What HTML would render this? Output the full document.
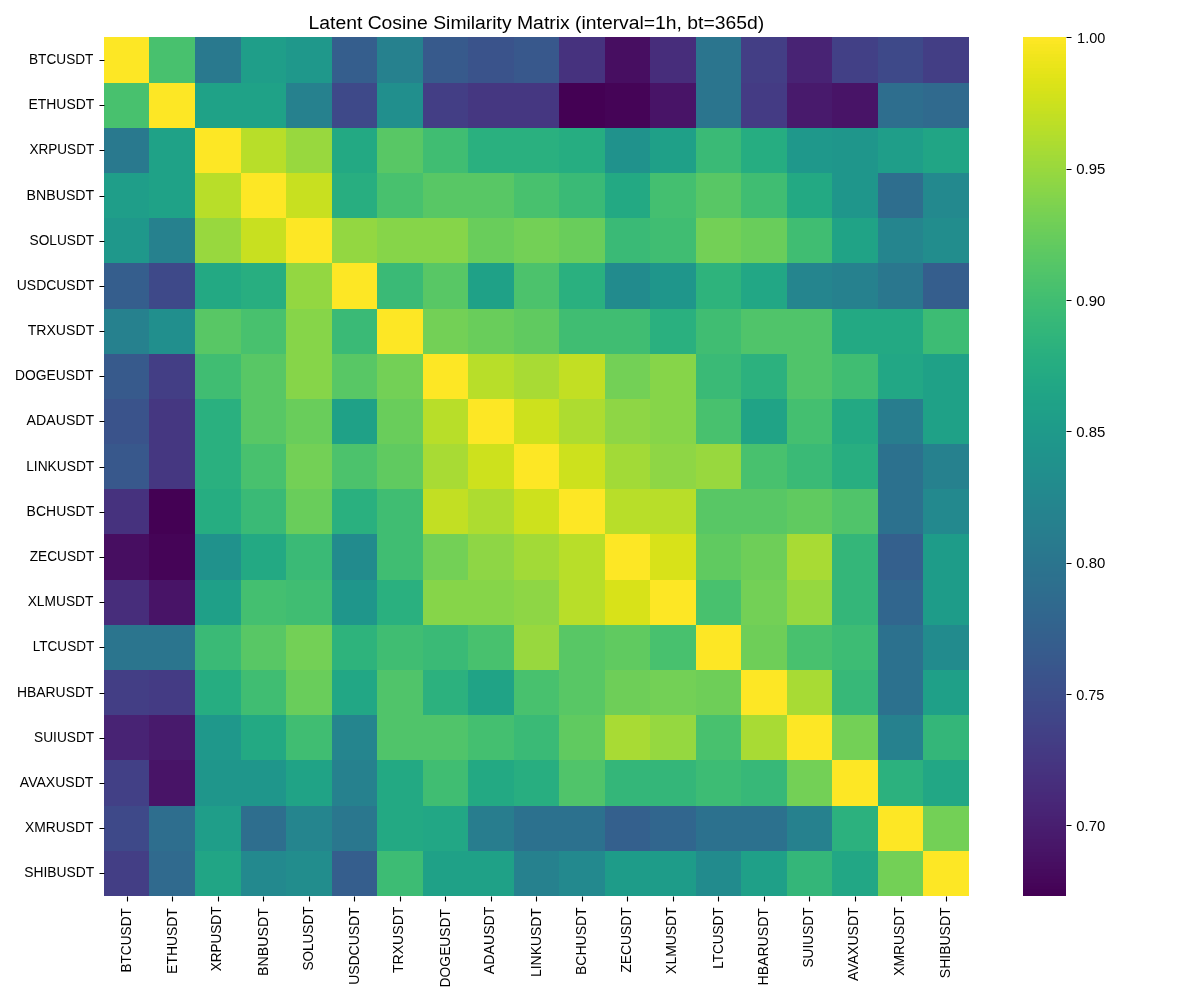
<!DOCTYPE html><html><head><meta charset="utf-8"><title>Latent Cosine Similarity Matrix</title><style>html,body{margin:0;padding:0;background:#fff;width:1200px;height:1000px;overflow:hidden}svg{display:block;will-change:transform}text{font-family:"Liberation Sans",sans-serif;fill:#000}</style></head><body>
<svg width="1200" height="1000" viewBox="0 0 1200 1000">
<rect x="0" y="0" width="1200" height="1000" fill="#fff"/>
<g shape-rendering="crispEdges">
<rect x="104" y="37" width="45" height="46" fill="#fde725"/>
<rect x="149" y="37" width="46" height="46" fill="#48c16e"/>
<rect x="195" y="37" width="46" height="46" fill="#29798e"/>
<rect x="241" y="37" width="45" height="46" fill="#1f9e89"/>
<rect x="286" y="37" width="46" height="46" fill="#1f988b"/>
<rect x="332" y="37" width="45" height="46" fill="#355e8d"/>
<rect x="377" y="37" width="46" height="46" fill="#26818e"/>
<rect x="423" y="37" width="45" height="46" fill="#375a8c"/>
<rect x="468" y="37" width="46" height="46" fill="#3a538b"/>
<rect x="514" y="37" width="45" height="46" fill="#38588c"/>
<rect x="559" y="37" width="46" height="46" fill="#46327e"/>
<rect x="605" y="37" width="45" height="46" fill="#470e61"/>
<rect x="650" y="37" width="46" height="46" fill="#472d7b"/>
<rect x="696" y="37" width="45" height="46" fill="#2b758e"/>
<rect x="741" y="37" width="46" height="46" fill="#433e85"/>
<rect x="787" y="37" width="45" height="46" fill="#482374"/>
<rect x="832" y="37" width="46" height="46" fill="#424086"/>
<rect x="878" y="37" width="45" height="46" fill="#3e4989"/>
<rect x="923" y="37" width="46" height="46" fill="#433e85"/>
<rect x="104" y="83" width="45" height="45" fill="#48c16e"/>
<rect x="149" y="83" width="46" height="45" fill="#fde725"/>
<rect x="195" y="83" width="46" height="45" fill="#1fa287"/>
<rect x="241" y="83" width="45" height="45" fill="#1fa287"/>
<rect x="286" y="83" width="46" height="45" fill="#26818e"/>
<rect x="332" y="83" width="45" height="45" fill="#3e4989"/>
<rect x="377" y="83" width="46" height="45" fill="#218f8d"/>
<rect x="423" y="83" width="45" height="45" fill="#433e85"/>
<rect x="468" y="83" width="46" height="45" fill="#453781"/>
<rect x="514" y="83" width="45" height="45" fill="#453781"/>
<rect x="559" y="83" width="46" height="45" fill="#440154"/>
<rect x="605" y="83" width="45" height="45" fill="#450457"/>
<rect x="650" y="83" width="46" height="45" fill="#481467"/>
<rect x="696" y="83" width="45" height="45" fill="#2b758e"/>
<rect x="741" y="83" width="46" height="45" fill="#443b84"/>
<rect x="787" y="83" width="45" height="45" fill="#481a6c"/>
<rect x="832" y="83" width="46" height="45" fill="#481467"/>
<rect x="878" y="83" width="45" height="45" fill="#2e6e8e"/>
<rect x="923" y="83" width="46" height="45" fill="#306a8e"/>
<rect x="104" y="128" width="45" height="45" fill="#29798e"/>
<rect x="149" y="128" width="46" height="45" fill="#1fa287"/>
<rect x="195" y="128" width="46" height="45" fill="#fde725"/>
<rect x="241" y="128" width="45" height="45" fill="#b8de29"/>
<rect x="286" y="128" width="46" height="45" fill="#98d83e"/>
<rect x="332" y="128" width="45" height="45" fill="#23a983"/>
<rect x="377" y="128" width="46" height="45" fill="#58c765"/>
<rect x="423" y="128" width="45" height="45" fill="#40bd72"/>
<rect x="468" y="128" width="46" height="45" fill="#2ab07f"/>
<rect x="514" y="128" width="45" height="45" fill="#2ab07f"/>
<rect x="559" y="128" width="46" height="45" fill="#26ad81"/>
<rect x="605" y="128" width="45" height="45" fill="#20928c"/>
<rect x="650" y="128" width="46" height="45" fill="#1fa088"/>
<rect x="696" y="128" width="45" height="45" fill="#3aba76"/>
<rect x="741" y="128" width="46" height="45" fill="#26ad81"/>
<rect x="787" y="128" width="45" height="45" fill="#1f988b"/>
<rect x="832" y="128" width="46" height="45" fill="#1f968b"/>
<rect x="878" y="128" width="45" height="45" fill="#1f9e89"/>
<rect x="923" y="128" width="46" height="45" fill="#21a585"/>
<rect x="104" y="173" width="45" height="45" fill="#1f9e89"/>
<rect x="149" y="173" width="46" height="45" fill="#1fa287"/>
<rect x="195" y="173" width="46" height="45" fill="#b8de29"/>
<rect x="241" y="173" width="45" height="45" fill="#fde725"/>
<rect x="286" y="173" width="46" height="45" fill="#c8e020"/>
<rect x="332" y="173" width="45" height="45" fill="#28ae80"/>
<rect x="377" y="173" width="46" height="45" fill="#48c16e"/>
<rect x="423" y="173" width="45" height="45" fill="#58c765"/>
<rect x="468" y="173" width="46" height="45" fill="#58c765"/>
<rect x="514" y="173" width="45" height="45" fill="#48c16e"/>
<rect x="559" y="173" width="46" height="45" fill="#3aba76"/>
<rect x="605" y="173" width="45" height="45" fill="#23a983"/>
<rect x="650" y="173" width="46" height="45" fill="#44bf70"/>
<rect x="696" y="173" width="45" height="45" fill="#58c765"/>
<rect x="741" y="173" width="46" height="45" fill="#40bd72"/>
<rect x="787" y="173" width="45" height="45" fill="#23a983"/>
<rect x="832" y="173" width="46" height="45" fill="#1f968b"/>
<rect x="878" y="173" width="45" height="45" fill="#2e6e8e"/>
<rect x="923" y="173" width="46" height="45" fill="#23898e"/>
<rect x="104" y="218" width="45" height="45" fill="#1f988b"/>
<rect x="149" y="218" width="46" height="45" fill="#26818e"/>
<rect x="195" y="218" width="46" height="45" fill="#98d83e"/>
<rect x="241" y="218" width="45" height="45" fill="#c8e020"/>
<rect x="286" y="218" width="46" height="45" fill="#fde725"/>
<rect x="332" y="218" width="45" height="45" fill="#93d741"/>
<rect x="377" y="218" width="46" height="45" fill="#86d549"/>
<rect x="423" y="218" width="45" height="45" fill="#86d549"/>
<rect x="468" y="218" width="46" height="45" fill="#69cd5b"/>
<rect x="514" y="218" width="45" height="45" fill="#73d056"/>
<rect x="559" y="218" width="46" height="45" fill="#69cd5b"/>
<rect x="605" y="218" width="45" height="45" fill="#3aba76"/>
<rect x="650" y="218" width="46" height="45" fill="#40bd72"/>
<rect x="696" y="218" width="45" height="45" fill="#73d056"/>
<rect x="741" y="218" width="46" height="45" fill="#69cd5b"/>
<rect x="787" y="218" width="45" height="45" fill="#40bd72"/>
<rect x="832" y="218" width="46" height="45" fill="#20a386"/>
<rect x="878" y="218" width="45" height="45" fill="#25858e"/>
<rect x="923" y="218" width="46" height="45" fill="#228d8d"/>
<rect x="104" y="263" width="45" height="46" fill="#355e8d"/>
<rect x="149" y="263" width="46" height="46" fill="#3e4989"/>
<rect x="195" y="263" width="46" height="46" fill="#23a983"/>
<rect x="241" y="263" width="45" height="46" fill="#28ae80"/>
<rect x="286" y="263" width="46" height="46" fill="#93d741"/>
<rect x="332" y="263" width="45" height="46" fill="#fde725"/>
<rect x="377" y="263" width="46" height="46" fill="#3aba76"/>
<rect x="423" y="263" width="45" height="46" fill="#58c765"/>
<rect x="468" y="263" width="46" height="46" fill="#1fa187"/>
<rect x="514" y="263" width="45" height="46" fill="#4cc26c"/>
<rect x="559" y="263" width="46" height="46" fill="#2ab07f"/>
<rect x="605" y="263" width="45" height="46" fill="#228b8d"/>
<rect x="650" y="263" width="46" height="46" fill="#1f968b"/>
<rect x="696" y="263" width="45" height="46" fill="#2eb37c"/>
<rect x="741" y="263" width="46" height="46" fill="#22a785"/>
<rect x="787" y="263" width="45" height="46" fill="#25858e"/>
<rect x="832" y="263" width="46" height="46" fill="#26818e"/>
<rect x="878" y="263" width="45" height="46" fill="#2a778e"/>
<rect x="923" y="263" width="46" height="46" fill="#355e8d"/>
<rect x="104" y="309" width="45" height="45" fill="#26818e"/>
<rect x="149" y="309" width="46" height="45" fill="#218f8d"/>
<rect x="195" y="309" width="46" height="45" fill="#58c765"/>
<rect x="241" y="309" width="45" height="45" fill="#48c16e"/>
<rect x="286" y="309" width="46" height="45" fill="#86d549"/>
<rect x="332" y="309" width="45" height="45" fill="#3aba76"/>
<rect x="377" y="309" width="46" height="45" fill="#fde725"/>
<rect x="423" y="309" width="45" height="45" fill="#73d056"/>
<rect x="468" y="309" width="46" height="45" fill="#69cd5b"/>
<rect x="514" y="309" width="45" height="45" fill="#60ca60"/>
<rect x="559" y="309" width="46" height="45" fill="#40bd72"/>
<rect x="605" y="309" width="45" height="45" fill="#40bd72"/>
<rect x="650" y="309" width="46" height="45" fill="#2ab07f"/>
<rect x="696" y="309" width="45" height="45" fill="#40bd72"/>
<rect x="741" y="309" width="46" height="45" fill="#50c46a"/>
<rect x="787" y="309" width="45" height="45" fill="#50c46a"/>
<rect x="832" y="309" width="46" height="45" fill="#23a983"/>
<rect x="878" y="309" width="45" height="45" fill="#23a983"/>
<rect x="923" y="309" width="46" height="45" fill="#3dbc74"/>
<rect x="104" y="354" width="45" height="45" fill="#375a8c"/>
<rect x="149" y="354" width="46" height="45" fill="#433e85"/>
<rect x="195" y="354" width="46" height="45" fill="#40bd72"/>
<rect x="241" y="354" width="45" height="45" fill="#58c765"/>
<rect x="286" y="354" width="46" height="45" fill="#86d549"/>
<rect x="332" y="354" width="45" height="45" fill="#58c765"/>
<rect x="377" y="354" width="46" height="45" fill="#73d056"/>
<rect x="423" y="354" width="45" height="45" fill="#fde725"/>
<rect x="468" y="354" width="46" height="45" fill="#b8de29"/>
<rect x="514" y="354" width="45" height="45" fill="#a8db34"/>
<rect x="559" y="354" width="46" height="45" fill="#c2df23"/>
<rect x="605" y="354" width="45" height="45" fill="#73d056"/>
<rect x="650" y="354" width="46" height="45" fill="#86d549"/>
<rect x="696" y="354" width="45" height="45" fill="#3aba76"/>
<rect x="741" y="354" width="46" height="45" fill="#2cb17e"/>
<rect x="787" y="354" width="45" height="45" fill="#50c46a"/>
<rect x="832" y="354" width="46" height="45" fill="#40bd72"/>
<rect x="878" y="354" width="45" height="45" fill="#22a785"/>
<rect x="923" y="354" width="46" height="45" fill="#1fa187"/>
<rect x="104" y="399" width="45" height="45" fill="#3a538b"/>
<rect x="149" y="399" width="46" height="45" fill="#453781"/>
<rect x="195" y="399" width="46" height="45" fill="#2ab07f"/>
<rect x="241" y="399" width="45" height="45" fill="#58c765"/>
<rect x="286" y="399" width="46" height="45" fill="#69cd5b"/>
<rect x="332" y="399" width="45" height="45" fill="#1fa187"/>
<rect x="377" y="399" width="46" height="45" fill="#69cd5b"/>
<rect x="423" y="399" width="45" height="45" fill="#b8de29"/>
<rect x="468" y="399" width="46" height="45" fill="#fde725"/>
<rect x="514" y="399" width="45" height="45" fill="#cde11d"/>
<rect x="559" y="399" width="46" height="45" fill="#addc30"/>
<rect x="605" y="399" width="45" height="45" fill="#8ed645"/>
<rect x="650" y="399" width="46" height="45" fill="#86d549"/>
<rect x="696" y="399" width="45" height="45" fill="#48c16e"/>
<rect x="741" y="399" width="46" height="45" fill="#20a386"/>
<rect x="787" y="399" width="45" height="45" fill="#44bf70"/>
<rect x="832" y="399" width="46" height="45" fill="#23a983"/>
<rect x="878" y="399" width="45" height="45" fill="#287d8e"/>
<rect x="923" y="399" width="46" height="45" fill="#1fa187"/>
<rect x="104" y="444" width="45" height="45" fill="#38588c"/>
<rect x="149" y="444" width="46" height="45" fill="#453781"/>
<rect x="195" y="444" width="46" height="45" fill="#2ab07f"/>
<rect x="241" y="444" width="45" height="45" fill="#48c16e"/>
<rect x="286" y="444" width="46" height="45" fill="#73d056"/>
<rect x="332" y="444" width="45" height="45" fill="#4cc26c"/>
<rect x="377" y="444" width="46" height="45" fill="#60ca60"/>
<rect x="423" y="444" width="45" height="45" fill="#a8db34"/>
<rect x="468" y="444" width="46" height="45" fill="#cde11d"/>
<rect x="514" y="444" width="45" height="45" fill="#fde725"/>
<rect x="559" y="444" width="46" height="45" fill="#cde11d"/>
<rect x="605" y="444" width="45" height="45" fill="#a2da37"/>
<rect x="650" y="444" width="46" height="45" fill="#8ed645"/>
<rect x="696" y="444" width="45" height="45" fill="#98d83e"/>
<rect x="741" y="444" width="46" height="45" fill="#48c16e"/>
<rect x="787" y="444" width="45" height="45" fill="#3aba76"/>
<rect x="832" y="444" width="46" height="45" fill="#28ae80"/>
<rect x="878" y="444" width="45" height="45" fill="#2c718e"/>
<rect x="923" y="444" width="46" height="45" fill="#26818e"/>
<rect x="104" y="489" width="45" height="45" fill="#46327e"/>
<rect x="149" y="489" width="46" height="45" fill="#440154"/>
<rect x="195" y="489" width="46" height="45" fill="#26ad81"/>
<rect x="241" y="489" width="45" height="45" fill="#3aba76"/>
<rect x="286" y="489" width="46" height="45" fill="#69cd5b"/>
<rect x="332" y="489" width="45" height="45" fill="#2ab07f"/>
<rect x="377" y="489" width="46" height="45" fill="#40bd72"/>
<rect x="423" y="489" width="45" height="45" fill="#c2df23"/>
<rect x="468" y="489" width="46" height="45" fill="#addc30"/>
<rect x="514" y="489" width="45" height="45" fill="#cde11d"/>
<rect x="559" y="489" width="46" height="45" fill="#fde725"/>
<rect x="605" y="489" width="45" height="45" fill="#b8de29"/>
<rect x="650" y="489" width="46" height="45" fill="#b8de29"/>
<rect x="696" y="489" width="45" height="45" fill="#58c765"/>
<rect x="741" y="489" width="46" height="45" fill="#58c765"/>
<rect x="787" y="489" width="45" height="45" fill="#60ca60"/>
<rect x="832" y="489" width="46" height="45" fill="#50c46a"/>
<rect x="878" y="489" width="45" height="45" fill="#2c718e"/>
<rect x="923" y="489" width="46" height="45" fill="#23898e"/>
<rect x="104" y="534" width="45" height="46" fill="#470e61"/>
<rect x="149" y="534" width="46" height="46" fill="#450457"/>
<rect x="195" y="534" width="46" height="46" fill="#20928c"/>
<rect x="241" y="534" width="45" height="46" fill="#23a983"/>
<rect x="286" y="534" width="46" height="46" fill="#3aba76"/>
<rect x="332" y="534" width="45" height="46" fill="#228b8d"/>
<rect x="377" y="534" width="46" height="46" fill="#40bd72"/>
<rect x="423" y="534" width="45" height="46" fill="#73d056"/>
<rect x="468" y="534" width="46" height="46" fill="#8ed645"/>
<rect x="514" y="534" width="45" height="46" fill="#a2da37"/>
<rect x="559" y="534" width="46" height="46" fill="#b8de29"/>
<rect x="605" y="534" width="45" height="46" fill="#fde725"/>
<rect x="650" y="534" width="46" height="46" fill="#d8e219"/>
<rect x="696" y="534" width="45" height="46" fill="#60ca60"/>
<rect x="741" y="534" width="46" height="46" fill="#6ece58"/>
<rect x="787" y="534" width="45" height="46" fill="#a8db34"/>
<rect x="832" y="534" width="46" height="46" fill="#34b679"/>
<rect x="878" y="534" width="45" height="46" fill="#34608d"/>
<rect x="923" y="534" width="46" height="46" fill="#1e9c89"/>
<rect x="104" y="580" width="45" height="45" fill="#472d7b"/>
<rect x="149" y="580" width="46" height="45" fill="#481467"/>
<rect x="195" y="580" width="46" height="45" fill="#1fa088"/>
<rect x="241" y="580" width="45" height="45" fill="#44bf70"/>
<rect x="286" y="580" width="46" height="45" fill="#40bd72"/>
<rect x="332" y="580" width="45" height="45" fill="#1f968b"/>
<rect x="377" y="580" width="46" height="45" fill="#2ab07f"/>
<rect x="423" y="580" width="45" height="45" fill="#86d549"/>
<rect x="468" y="580" width="46" height="45" fill="#86d549"/>
<rect x="514" y="580" width="45" height="45" fill="#8ed645"/>
<rect x="559" y="580" width="46" height="45" fill="#b8de29"/>
<rect x="605" y="580" width="45" height="45" fill="#d8e219"/>
<rect x="650" y="580" width="46" height="45" fill="#fde725"/>
<rect x="696" y="580" width="45" height="45" fill="#48c16e"/>
<rect x="741" y="580" width="46" height="45" fill="#73d056"/>
<rect x="787" y="580" width="45" height="45" fill="#95d840"/>
<rect x="832" y="580" width="46" height="45" fill="#34b679"/>
<rect x="878" y="580" width="45" height="45" fill="#31668e"/>
<rect x="923" y="580" width="46" height="45" fill="#1e9c89"/>
<rect x="104" y="625" width="45" height="45" fill="#2b758e"/>
<rect x="149" y="625" width="46" height="45" fill="#2b758e"/>
<rect x="195" y="625" width="46" height="45" fill="#3aba76"/>
<rect x="241" y="625" width="45" height="45" fill="#58c765"/>
<rect x="286" y="625" width="46" height="45" fill="#73d056"/>
<rect x="332" y="625" width="45" height="45" fill="#2eb37c"/>
<rect x="377" y="625" width="46" height="45" fill="#40bd72"/>
<rect x="423" y="625" width="45" height="45" fill="#3aba76"/>
<rect x="468" y="625" width="46" height="45" fill="#48c16e"/>
<rect x="514" y="625" width="45" height="45" fill="#98d83e"/>
<rect x="559" y="625" width="46" height="45" fill="#58c765"/>
<rect x="605" y="625" width="45" height="45" fill="#60ca60"/>
<rect x="650" y="625" width="46" height="45" fill="#48c16e"/>
<rect x="696" y="625" width="45" height="45" fill="#fde725"/>
<rect x="741" y="625" width="46" height="45" fill="#6ece58"/>
<rect x="787" y="625" width="45" height="45" fill="#48c16e"/>
<rect x="832" y="625" width="46" height="45" fill="#3dbc74"/>
<rect x="878" y="625" width="45" height="45" fill="#2c718e"/>
<rect x="923" y="625" width="46" height="45" fill="#228b8d"/>
<rect x="104" y="670" width="45" height="45" fill="#433e85"/>
<rect x="149" y="670" width="46" height="45" fill="#443b84"/>
<rect x="195" y="670" width="46" height="45" fill="#26ad81"/>
<rect x="241" y="670" width="45" height="45" fill="#40bd72"/>
<rect x="286" y="670" width="46" height="45" fill="#69cd5b"/>
<rect x="332" y="670" width="45" height="45" fill="#22a785"/>
<rect x="377" y="670" width="46" height="45" fill="#50c46a"/>
<rect x="423" y="670" width="45" height="45" fill="#2cb17e"/>
<rect x="468" y="670" width="46" height="45" fill="#20a386"/>
<rect x="514" y="670" width="45" height="45" fill="#48c16e"/>
<rect x="559" y="670" width="46" height="45" fill="#58c765"/>
<rect x="605" y="670" width="45" height="45" fill="#6ece58"/>
<rect x="650" y="670" width="46" height="45" fill="#73d056"/>
<rect x="696" y="670" width="45" height="45" fill="#6ece58"/>
<rect x="741" y="670" width="46" height="45" fill="#fde725"/>
<rect x="787" y="670" width="45" height="45" fill="#a8db34"/>
<rect x="832" y="670" width="46" height="45" fill="#37b878"/>
<rect x="878" y="670" width="45" height="45" fill="#2c718e"/>
<rect x="923" y="670" width="46" height="45" fill="#1fa088"/>
<rect x="104" y="715" width="45" height="45" fill="#482374"/>
<rect x="149" y="715" width="46" height="45" fill="#481a6c"/>
<rect x="195" y="715" width="46" height="45" fill="#1f988b"/>
<rect x="241" y="715" width="45" height="45" fill="#23a983"/>
<rect x="286" y="715" width="46" height="45" fill="#40bd72"/>
<rect x="332" y="715" width="45" height="45" fill="#25858e"/>
<rect x="377" y="715" width="46" height="45" fill="#50c46a"/>
<rect x="423" y="715" width="45" height="45" fill="#50c46a"/>
<rect x="468" y="715" width="46" height="45" fill="#44bf70"/>
<rect x="514" y="715" width="45" height="45" fill="#3aba76"/>
<rect x="559" y="715" width="46" height="45" fill="#60ca60"/>
<rect x="605" y="715" width="45" height="45" fill="#a8db34"/>
<rect x="650" y="715" width="46" height="45" fill="#95d840"/>
<rect x="696" y="715" width="45" height="45" fill="#48c16e"/>
<rect x="741" y="715" width="46" height="45" fill="#a8db34"/>
<rect x="787" y="715" width="45" height="45" fill="#fde725"/>
<rect x="832" y="715" width="46" height="45" fill="#73d056"/>
<rect x="878" y="715" width="45" height="45" fill="#26818e"/>
<rect x="923" y="715" width="46" height="45" fill="#34b679"/>
<rect x="104" y="760" width="45" height="46" fill="#424086"/>
<rect x="149" y="760" width="46" height="46" fill="#481467"/>
<rect x="195" y="760" width="46" height="46" fill="#1f968b"/>
<rect x="241" y="760" width="45" height="46" fill="#1f968b"/>
<rect x="286" y="760" width="46" height="46" fill="#20a386"/>
<rect x="332" y="760" width="45" height="46" fill="#26818e"/>
<rect x="377" y="760" width="46" height="46" fill="#23a983"/>
<rect x="423" y="760" width="45" height="46" fill="#40bd72"/>
<rect x="468" y="760" width="46" height="46" fill="#23a983"/>
<rect x="514" y="760" width="45" height="46" fill="#28ae80"/>
<rect x="559" y="760" width="46" height="46" fill="#50c46a"/>
<rect x="605" y="760" width="45" height="46" fill="#34b679"/>
<rect x="650" y="760" width="46" height="46" fill="#34b679"/>
<rect x="696" y="760" width="45" height="46" fill="#3dbc74"/>
<rect x="741" y="760" width="46" height="46" fill="#37b878"/>
<rect x="787" y="760" width="45" height="46" fill="#73d056"/>
<rect x="832" y="760" width="46" height="46" fill="#fde725"/>
<rect x="878" y="760" width="45" height="46" fill="#2cb17e"/>
<rect x="923" y="760" width="46" height="46" fill="#22a785"/>
<rect x="104" y="806" width="45" height="45" fill="#3e4989"/>
<rect x="149" y="806" width="46" height="45" fill="#2e6e8e"/>
<rect x="195" y="806" width="46" height="45" fill="#1f9e89"/>
<rect x="241" y="806" width="45" height="45" fill="#2e6e8e"/>
<rect x="286" y="806" width="46" height="45" fill="#25858e"/>
<rect x="332" y="806" width="45" height="45" fill="#2a778e"/>
<rect x="377" y="806" width="46" height="45" fill="#23a983"/>
<rect x="423" y="806" width="45" height="45" fill="#22a785"/>
<rect x="468" y="806" width="46" height="45" fill="#287d8e"/>
<rect x="514" y="806" width="45" height="45" fill="#2c718e"/>
<rect x="559" y="806" width="46" height="45" fill="#2c718e"/>
<rect x="605" y="806" width="45" height="45" fill="#34608d"/>
<rect x="650" y="806" width="46" height="45" fill="#31668e"/>
<rect x="696" y="806" width="45" height="45" fill="#2c718e"/>
<rect x="741" y="806" width="46" height="45" fill="#2c718e"/>
<rect x="787" y="806" width="45" height="45" fill="#26818e"/>
<rect x="832" y="806" width="46" height="45" fill="#2cb17e"/>
<rect x="878" y="806" width="45" height="45" fill="#fde725"/>
<rect x="923" y="806" width="46" height="45" fill="#73d056"/>
<rect x="104" y="851" width="45" height="45" fill="#433e85"/>
<rect x="149" y="851" width="46" height="45" fill="#306a8e"/>
<rect x="195" y="851" width="46" height="45" fill="#21a585"/>
<rect x="241" y="851" width="45" height="45" fill="#23898e"/>
<rect x="286" y="851" width="46" height="45" fill="#228d8d"/>
<rect x="332" y="851" width="45" height="45" fill="#355e8d"/>
<rect x="377" y="851" width="46" height="45" fill="#3dbc74"/>
<rect x="423" y="851" width="45" height="45" fill="#1fa187"/>
<rect x="468" y="851" width="46" height="45" fill="#1fa187"/>
<rect x="514" y="851" width="45" height="45" fill="#26818e"/>
<rect x="559" y="851" width="46" height="45" fill="#23898e"/>
<rect x="605" y="851" width="45" height="45" fill="#1e9c89"/>
<rect x="650" y="851" width="46" height="45" fill="#1e9c89"/>
<rect x="696" y="851" width="45" height="45" fill="#228b8d"/>
<rect x="741" y="851" width="46" height="45" fill="#1fa088"/>
<rect x="787" y="851" width="45" height="45" fill="#34b679"/>
<rect x="832" y="851" width="46" height="45" fill="#22a785"/>
<rect x="878" y="851" width="45" height="45" fill="#73d056"/>
<rect x="923" y="851" width="46" height="45" fill="#fde725"/>
</g>
<g shape-rendering="crispEdges">
<rect x="1023" y="37" width="43" height="4" fill="#fde725"/>
<rect x="1023" y="41" width="43" height="3" fill="#fbe723"/>
<rect x="1023" y="44" width="43" height="3" fill="#f8e621"/>
<rect x="1023" y="47" width="43" height="4" fill="#f6e620"/>
<rect x="1023" y="51" width="43" height="3" fill="#f4e61e"/>
<rect x="1023" y="54" width="43" height="3" fill="#f1e51d"/>
<rect x="1023" y="57" width="43" height="4" fill="#efe51c"/>
<rect x="1023" y="61" width="43" height="3" fill="#ece51b"/>
<rect x="1023" y="64" width="43" height="4" fill="#eae51a"/>
<rect x="1023" y="68" width="43" height="3" fill="#e7e419"/>
<rect x="1023" y="71" width="43" height="3" fill="#e5e419"/>
<rect x="1023" y="74" width="43" height="4" fill="#e2e418"/>
<rect x="1023" y="78" width="43" height="3" fill="#dfe318"/>
<rect x="1023" y="81" width="43" height="3" fill="#dde318"/>
<rect x="1023" y="84" width="43" height="4" fill="#dae319"/>
<rect x="1023" y="88" width="43" height="3" fill="#d8e219"/>
<rect x="1023" y="91" width="43" height="3" fill="#d5e21a"/>
<rect x="1023" y="94" width="43" height="4" fill="#d2e21b"/>
<rect x="1023" y="98" width="43" height="3" fill="#d0e11c"/>
<rect x="1023" y="101" width="43" height="3" fill="#cde11d"/>
<rect x="1023" y="104" width="43" height="4" fill="#cae11f"/>
<rect x="1023" y="108" width="43" height="3" fill="#c8e020"/>
<rect x="1023" y="111" width="43" height="3" fill="#c5e021"/>
<rect x="1023" y="114" width="43" height="4" fill="#c2df23"/>
<rect x="1023" y="118" width="43" height="3" fill="#c0df25"/>
<rect x="1023" y="121" width="43" height="4" fill="#bddf26"/>
<rect x="1023" y="125" width="43" height="3" fill="#bade28"/>
<rect x="1023" y="128" width="43" height="3" fill="#b8de29"/>
<rect x="1023" y="131" width="43" height="4" fill="#b5de2b"/>
<rect x="1023" y="135" width="43" height="3" fill="#b2dd2d"/>
<rect x="1023" y="138" width="43" height="3" fill="#b0dd2f"/>
<rect x="1023" y="141" width="43" height="4" fill="#addc30"/>
<rect x="1023" y="145" width="43" height="3" fill="#aadc32"/>
<rect x="1023" y="148" width="43" height="3" fill="#a8db34"/>
<rect x="1023" y="151" width="43" height="4" fill="#a5db36"/>
<rect x="1023" y="155" width="43" height="3" fill="#a2da37"/>
<rect x="1023" y="158" width="43" height="3" fill="#a0da39"/>
<rect x="1023" y="161" width="43" height="4" fill="#9dd93b"/>
<rect x="1023" y="165" width="43" height="3" fill="#9bd93c"/>
<rect x="1023" y="168" width="43" height="4" fill="#98d83e"/>
<rect x="1023" y="172" width="43" height="3" fill="#95d840"/>
<rect x="1023" y="175" width="43" height="3" fill="#93d741"/>
<rect x="1023" y="178" width="43" height="4" fill="#90d743"/>
<rect x="1023" y="182" width="43" height="3" fill="#8ed645"/>
<rect x="1023" y="185" width="43" height="3" fill="#8bd646"/>
<rect x="1023" y="188" width="43" height="4" fill="#89d548"/>
<rect x="1023" y="192" width="43" height="3" fill="#86d549"/>
<rect x="1023" y="195" width="43" height="3" fill="#84d44b"/>
<rect x="1023" y="198" width="43" height="4" fill="#81d34d"/>
<rect x="1023" y="202" width="43" height="3" fill="#7fd34e"/>
<rect x="1023" y="205" width="43" height="3" fill="#7cd250"/>
<rect x="1023" y="208" width="43" height="4" fill="#7ad151"/>
<rect x="1023" y="212" width="43" height="3" fill="#77d153"/>
<rect x="1023" y="215" width="43" height="3" fill="#75d054"/>
<rect x="1023" y="218" width="43" height="4" fill="#73d056"/>
<rect x="1023" y="222" width="43" height="3" fill="#70cf57"/>
<rect x="1023" y="225" width="43" height="4" fill="#6ece58"/>
<rect x="1023" y="229" width="43" height="3" fill="#6ccd5a"/>
<rect x="1023" y="232" width="43" height="3" fill="#69cd5b"/>
<rect x="1023" y="235" width="43" height="4" fill="#67cc5c"/>
<rect x="1023" y="239" width="43" height="3" fill="#65cb5e"/>
<rect x="1023" y="242" width="43" height="3" fill="#63cb5f"/>
<rect x="1023" y="245" width="43" height="4" fill="#60ca60"/>
<rect x="1023" y="249" width="43" height="3" fill="#5ec962"/>
<rect x="1023" y="252" width="43" height="3" fill="#5cc863"/>
<rect x="1023" y="255" width="43" height="4" fill="#5ac864"/>
<rect x="1023" y="259" width="43" height="3" fill="#58c765"/>
<rect x="1023" y="262" width="43" height="3" fill="#56c667"/>
<rect x="1023" y="265" width="43" height="4" fill="#54c568"/>
<rect x="1023" y="269" width="43" height="3" fill="#52c569"/>
<rect x="1023" y="272" width="43" height="3" fill="#50c46a"/>
<rect x="1023" y="275" width="43" height="4" fill="#4ec36b"/>
<rect x="1023" y="279" width="43" height="3" fill="#4cc26c"/>
<rect x="1023" y="282" width="43" height="4" fill="#4ac16d"/>
<rect x="1023" y="286" width="43" height="3" fill="#48c16e"/>
<rect x="1023" y="289" width="43" height="3" fill="#46c06f"/>
<rect x="1023" y="292" width="43" height="4" fill="#44bf70"/>
<rect x="1023" y="296" width="43" height="3" fill="#42be71"/>
<rect x="1023" y="299" width="43" height="3" fill="#40bd72"/>
<rect x="1023" y="302" width="43" height="4" fill="#3fbc73"/>
<rect x="1023" y="306" width="43" height="3" fill="#3dbc74"/>
<rect x="1023" y="309" width="43" height="3" fill="#3bbb75"/>
<rect x="1023" y="312" width="43" height="4" fill="#3aba76"/>
<rect x="1023" y="316" width="43" height="3" fill="#38b977"/>
<rect x="1023" y="319" width="43" height="3" fill="#37b878"/>
<rect x="1023" y="322" width="43" height="4" fill="#35b779"/>
<rect x="1023" y="326" width="43" height="3" fill="#34b679"/>
<rect x="1023" y="329" width="43" height="4" fill="#32b67a"/>
<rect x="1023" y="333" width="43" height="3" fill="#31b57b"/>
<rect x="1023" y="336" width="43" height="3" fill="#2fb47c"/>
<rect x="1023" y="339" width="43" height="4" fill="#2eb37c"/>
<rect x="1023" y="343" width="43" height="3" fill="#2db27d"/>
<rect x="1023" y="346" width="43" height="3" fill="#2cb17e"/>
<rect x="1023" y="349" width="43" height="4" fill="#2ab07f"/>
<rect x="1023" y="353" width="43" height="3" fill="#29af7f"/>
<rect x="1023" y="356" width="43" height="3" fill="#28ae80"/>
<rect x="1023" y="359" width="43" height="4" fill="#27ad81"/>
<rect x="1023" y="363" width="43" height="3" fill="#26ad81"/>
<rect x="1023" y="366" width="43" height="3" fill="#25ac82"/>
<rect x="1023" y="369" width="43" height="4" fill="#25ab82"/>
<rect x="1023" y="373" width="43" height="3" fill="#24aa83"/>
<rect x="1023" y="376" width="43" height="3" fill="#23a983"/>
<rect x="1023" y="379" width="43" height="4" fill="#22a884"/>
<rect x="1023" y="383" width="43" height="3" fill="#22a785"/>
<rect x="1023" y="386" width="43" height="4" fill="#21a685"/>
<rect x="1023" y="390" width="43" height="3" fill="#21a585"/>
<rect x="1023" y="393" width="43" height="3" fill="#20a486"/>
<rect x="1023" y="396" width="43" height="4" fill="#20a386"/>
<rect x="1023" y="400" width="43" height="3" fill="#1fa287"/>
<rect x="1023" y="403" width="43" height="3" fill="#1fa187"/>
<rect x="1023" y="406" width="43" height="4" fill="#1fa188"/>
<rect x="1023" y="410" width="43" height="3" fill="#1fa088"/>
<rect x="1023" y="413" width="43" height="3" fill="#1f9f88"/>
<rect x="1023" y="416" width="43" height="4" fill="#1f9e89"/>
<rect x="1023" y="420" width="43" height="3" fill="#1e9d89"/>
<rect x="1023" y="423" width="43" height="3" fill="#1e9c89"/>
<rect x="1023" y="426" width="43" height="4" fill="#1e9b8a"/>
<rect x="1023" y="430" width="43" height="3" fill="#1f9a8a"/>
<rect x="1023" y="433" width="43" height="3" fill="#1f998a"/>
<rect x="1023" y="436" width="43" height="4" fill="#1f988b"/>
<rect x="1023" y="440" width="43" height="3" fill="#1f978b"/>
<rect x="1023" y="443" width="43" height="4" fill="#1f968b"/>
<rect x="1023" y="447" width="43" height="3" fill="#1f958b"/>
<rect x="1023" y="450" width="43" height="3" fill="#1f948c"/>
<rect x="1023" y="453" width="43" height="4" fill="#20938c"/>
<rect x="1023" y="457" width="43" height="6" fill="#20928c"/>
<rect x="1023" y="463" width="43" height="4" fill="#21918c"/>
<rect x="1023" y="467" width="43" height="3" fill="#21908d"/>
<rect x="1023" y="470" width="43" height="3" fill="#218f8d"/>
<rect x="1023" y="473" width="43" height="4" fill="#218e8d"/>
<rect x="1023" y="477" width="43" height="3" fill="#228d8d"/>
<rect x="1023" y="480" width="43" height="3" fill="#228c8d"/>
<rect x="1023" y="483" width="43" height="4" fill="#228b8d"/>
<rect x="1023" y="487" width="43" height="3" fill="#238a8d"/>
<rect x="1023" y="490" width="43" height="4" fill="#23898e"/>
<rect x="1023" y="494" width="43" height="3" fill="#23888e"/>
<rect x="1023" y="497" width="43" height="3" fill="#24878e"/>
<rect x="1023" y="500" width="43" height="4" fill="#24868e"/>
<rect x="1023" y="504" width="43" height="3" fill="#25858e"/>
<rect x="1023" y="507" width="43" height="3" fill="#25848e"/>
<rect x="1023" y="510" width="43" height="4" fill="#25838e"/>
<rect x="1023" y="514" width="43" height="6" fill="#26828e"/>
<rect x="1023" y="520" width="43" height="4" fill="#26818e"/>
<rect x="1023" y="524" width="43" height="3" fill="#27808e"/>
<rect x="1023" y="527" width="43" height="3" fill="#277f8e"/>
<rect x="1023" y="530" width="43" height="4" fill="#277e8e"/>
<rect x="1023" y="534" width="43" height="3" fill="#287d8e"/>
<rect x="1023" y="537" width="43" height="3" fill="#287c8e"/>
<rect x="1023" y="540" width="43" height="4" fill="#297b8e"/>
<rect x="1023" y="544" width="43" height="3" fill="#297a8e"/>
<rect x="1023" y="547" width="43" height="4" fill="#29798e"/>
<rect x="1023" y="551" width="43" height="3" fill="#2a788e"/>
<rect x="1023" y="554" width="43" height="3" fill="#2a778e"/>
<rect x="1023" y="557" width="43" height="4" fill="#2a768e"/>
<rect x="1023" y="561" width="43" height="3" fill="#2b758e"/>
<rect x="1023" y="564" width="43" height="3" fill="#2b748e"/>
<rect x="1023" y="567" width="43" height="4" fill="#2c738e"/>
<rect x="1023" y="571" width="43" height="3" fill="#2c728e"/>
<rect x="1023" y="574" width="43" height="3" fill="#2c718e"/>
<rect x="1023" y="577" width="43" height="4" fill="#2d718e"/>
<rect x="1023" y="581" width="43" height="3" fill="#2d708e"/>
<rect x="1023" y="584" width="43" height="3" fill="#2e6f8e"/>
<rect x="1023" y="587" width="43" height="4" fill="#2e6e8e"/>
<rect x="1023" y="591" width="43" height="3" fill="#2e6d8e"/>
<rect x="1023" y="594" width="43" height="3" fill="#2f6c8e"/>
<rect x="1023" y="597" width="43" height="4" fill="#2f6b8e"/>
<rect x="1023" y="601" width="43" height="3" fill="#306a8e"/>
<rect x="1023" y="604" width="43" height="4" fill="#30698e"/>
<rect x="1023" y="608" width="43" height="3" fill="#31688e"/>
<rect x="1023" y="611" width="43" height="3" fill="#31678e"/>
<rect x="1023" y="614" width="43" height="4" fill="#31668e"/>
<rect x="1023" y="618" width="43" height="3" fill="#32658e"/>
<rect x="1023" y="621" width="43" height="3" fill="#32648e"/>
<rect x="1023" y="624" width="43" height="4" fill="#33638d"/>
<rect x="1023" y="628" width="43" height="3" fill="#33628d"/>
<rect x="1023" y="631" width="43" height="3" fill="#34618d"/>
<rect x="1023" y="634" width="43" height="4" fill="#34608d"/>
<rect x="1023" y="638" width="43" height="3" fill="#355f8d"/>
<rect x="1023" y="641" width="43" height="3" fill="#355e8d"/>
<rect x="1023" y="644" width="43" height="4" fill="#365d8d"/>
<rect x="1023" y="648" width="43" height="3" fill="#365c8d"/>
<rect x="1023" y="651" width="43" height="4" fill="#375b8d"/>
<rect x="1023" y="655" width="43" height="3" fill="#375a8c"/>
<rect x="1023" y="658" width="43" height="3" fill="#38598c"/>
<rect x="1023" y="661" width="43" height="4" fill="#38588c"/>
<rect x="1023" y="665" width="43" height="3" fill="#39568c"/>
<rect x="1023" y="668" width="43" height="3" fill="#39558c"/>
<rect x="1023" y="671" width="43" height="4" fill="#3a548c"/>
<rect x="1023" y="675" width="43" height="3" fill="#3a538b"/>
<rect x="1023" y="678" width="43" height="3" fill="#3b528b"/>
<rect x="1023" y="681" width="43" height="4" fill="#3b518b"/>
<rect x="1023" y="685" width="43" height="3" fill="#3c508b"/>
<rect x="1023" y="688" width="43" height="3" fill="#3c4f8a"/>
<rect x="1023" y="691" width="43" height="4" fill="#3d4e8a"/>
<rect x="1023" y="695" width="43" height="3" fill="#3d4d8a"/>
<rect x="1023" y="698" width="43" height="3" fill="#3e4c8a"/>
<rect x="1023" y="701" width="43" height="4" fill="#3e4a89"/>
<rect x="1023" y="705" width="43" height="3" fill="#3e4989"/>
<rect x="1023" y="708" width="43" height="4" fill="#3f4889"/>
<rect x="1023" y="712" width="43" height="3" fill="#3f4788"/>
<rect x="1023" y="715" width="43" height="3" fill="#404688"/>
<rect x="1023" y="718" width="43" height="4" fill="#404588"/>
<rect x="1023" y="722" width="43" height="3" fill="#414487"/>
<rect x="1023" y="725" width="43" height="3" fill="#414287"/>
<rect x="1023" y="728" width="43" height="4" fill="#424186"/>
<rect x="1023" y="732" width="43" height="3" fill="#424086"/>
<rect x="1023" y="735" width="43" height="3" fill="#423f85"/>
<rect x="1023" y="738" width="43" height="4" fill="#433e85"/>
<rect x="1023" y="742" width="43" height="3" fill="#433d84"/>
<rect x="1023" y="745" width="43" height="3" fill="#443b84"/>
<rect x="1023" y="748" width="43" height="4" fill="#443a83"/>
<rect x="1023" y="752" width="43" height="3" fill="#443983"/>
<rect x="1023" y="755" width="43" height="4" fill="#453882"/>
<rect x="1023" y="759" width="43" height="3" fill="#453781"/>
<rect x="1023" y="762" width="43" height="3" fill="#453581"/>
<rect x="1023" y="765" width="43" height="4" fill="#463480"/>
<rect x="1023" y="769" width="43" height="3" fill="#46337f"/>
<rect x="1023" y="772" width="43" height="3" fill="#46327e"/>
<rect x="1023" y="775" width="43" height="4" fill="#46307e"/>
<rect x="1023" y="779" width="43" height="3" fill="#472f7d"/>
<rect x="1023" y="782" width="43" height="3" fill="#472e7c"/>
<rect x="1023" y="785" width="43" height="4" fill="#472d7b"/>
<rect x="1023" y="789" width="43" height="3" fill="#472c7a"/>
<rect x="1023" y="792" width="43" height="3" fill="#472a7a"/>
<rect x="1023" y="795" width="43" height="4" fill="#482979"/>
<rect x="1023" y="799" width="43" height="3" fill="#482878"/>
<rect x="1023" y="802" width="43" height="3" fill="#482677"/>
<rect x="1023" y="805" width="43" height="4" fill="#482576"/>
<rect x="1023" y="809" width="43" height="3" fill="#482475"/>
<rect x="1023" y="812" width="43" height="4" fill="#482374"/>
<rect x="1023" y="816" width="43" height="3" fill="#482173"/>
<rect x="1023" y="819" width="43" height="3" fill="#482071"/>
<rect x="1023" y="822" width="43" height="4" fill="#481f70"/>
<rect x="1023" y="826" width="43" height="3" fill="#481d6f"/>
<rect x="1023" y="829" width="43" height="3" fill="#481c6e"/>
<rect x="1023" y="832" width="43" height="4" fill="#481b6d"/>
<rect x="1023" y="836" width="43" height="3" fill="#481a6c"/>
<rect x="1023" y="839" width="43" height="3" fill="#48186a"/>
<rect x="1023" y="842" width="43" height="4" fill="#481769"/>
<rect x="1023" y="846" width="43" height="3" fill="#481668"/>
<rect x="1023" y="849" width="43" height="3" fill="#481467"/>
<rect x="1023" y="852" width="43" height="4" fill="#471365"/>
<rect x="1023" y="856" width="43" height="3" fill="#471164"/>
<rect x="1023" y="859" width="43" height="3" fill="#471063"/>
<rect x="1023" y="862" width="43" height="4" fill="#470e61"/>
<rect x="1023" y="866" width="43" height="3" fill="#470d60"/>
<rect x="1023" y="869" width="43" height="4" fill="#460b5e"/>
<rect x="1023" y="873" width="43" height="3" fill="#460a5d"/>
<rect x="1023" y="876" width="43" height="3" fill="#46085c"/>
<rect x="1023" y="879" width="43" height="4" fill="#46075a"/>
<rect x="1023" y="883" width="43" height="3" fill="#450559"/>
<rect x="1023" y="886" width="43" height="3" fill="#450457"/>
<rect x="1023" y="889" width="43" height="4" fill="#440256"/>
<rect x="1023" y="893" width="43" height="3" fill="#440154"/>
</g>
<path d="M99.5 60.5H104.5M99.5 105.5H104.5M99.5 150.5H104.5M99.5 196.5H104.5M99.5 241.5H104.5M99.5 286.5H104.5M99.5 331.5H104.5M99.5 376.5H104.5M99.5 421.5H104.5M99.5 467.5H104.5M99.5 512.5H104.5M99.5 557.5H104.5M99.5 602.5H104.5M99.5 647.5H104.5M99.5 693.5H104.5M99.5 738.5H104.5M99.5 783.5H104.5M99.5 828.5H104.5M99.5 873.5H104.5M127.5 896.5V901.5M172.5 896.5V901.5M218.5 896.5V901.5M263.5 896.5V901.5M309.5 896.5V901.5M354.5 896.5V901.5M400.5 896.5V901.5M445.5 896.5V901.5M491.5 896.5V901.5M536.5 896.5V901.5M582.5 896.5V901.5M627.5 896.5V901.5M673.5 896.5V901.5M718.5 896.5V901.5M764.5 896.5V901.5M809.5 896.5V901.5M855.5 896.5V901.5M901.5 896.5V901.5M946.5 896.5V901.5M1066.5 37.5H1071.5M1066.5 169.5H1071.5M1066.5 300.5H1071.5M1066.5 431.5H1071.5M1066.5 563.5H1071.5M1066.5 694.5H1071.5M1066.5 825.5H1071.5" stroke="#000" stroke-width="1.11" fill="none"/>
<g font-size="13.89">
<text x="93.45" y="64.03" text-anchor="end" textLength="64.43" lengthAdjust="spacingAndGlyphs">BTCUSDT</text>
<text x="94.25" y="109.22" text-anchor="end" textLength="65.75" lengthAdjust="spacingAndGlyphs">ETHUSDT</text>
<text x="94.25" y="154.42" text-anchor="end" textLength="64.82" lengthAdjust="spacingAndGlyphs">XRPUSDT</text>
<text x="94.25" y="199.61" text-anchor="end" textLength="67.75" lengthAdjust="spacingAndGlyphs">BNBUSDT</text>
<text x="94.25" y="244.81" text-anchor="end" textLength="64.75" lengthAdjust="spacingAndGlyphs">SOLUSDT</text>
<text x="94.25" y="290.00" text-anchor="end" textLength="77.50" lengthAdjust="spacingAndGlyphs">USDCUSDT</text>
<text x="94.25" y="335.20" text-anchor="end" textLength="66.56" lengthAdjust="spacingAndGlyphs">TRXUSDT</text>
<text x="93.45" y="380.39" text-anchor="end" textLength="78.44" lengthAdjust="spacingAndGlyphs">DOGEUSDT</text>
<text x="94.25" y="424.79" text-anchor="end" textLength="67.62" lengthAdjust="spacingAndGlyphs">ADAUSDT</text>
<text x="94.25" y="470.78" text-anchor="end" textLength="68.06" lengthAdjust="spacingAndGlyphs">LINKUSDT</text>
<text x="94.25" y="515.97" text-anchor="end" textLength="67.62" lengthAdjust="spacingAndGlyphs">BCHUSDT</text>
<text x="94.25" y="561.17" text-anchor="end" textLength="64.52" lengthAdjust="spacingAndGlyphs">ZECUSDT</text>
<text x="93.45" y="606.36" text-anchor="end" textLength="65.76" lengthAdjust="spacingAndGlyphs">XLMUSDT</text>
<text x="94.25" y="650.76" text-anchor="end" textLength="61.50" lengthAdjust="spacingAndGlyphs">LTCUSDT</text>
<text x="93.45" y="696.75" text-anchor="end" textLength="76.44" lengthAdjust="spacingAndGlyphs">HBARUSDT</text>
<text x="94.25" y="741.95" text-anchor="end" textLength="60.19" lengthAdjust="spacingAndGlyphs">SUIUSDT</text>
<text x="93.45" y="787.14" text-anchor="end" textLength="73.57" lengthAdjust="spacingAndGlyphs">AVAXUSDT</text>
<text x="93.45" y="832.34" text-anchor="end" textLength="68.43" lengthAdjust="spacingAndGlyphs">XMRUSDT</text>
<text x="94.25" y="876.73" text-anchor="end" textLength="70.06" lengthAdjust="spacingAndGlyphs">SHIBUSDT</text>
<text transform="translate(130.83 908.15) rotate(-90)" text-anchor="end" textLength="64.43" lengthAdjust="spacingAndGlyphs">BTCUSDT</text>
<text transform="translate(177.15 908.15) rotate(-90)" text-anchor="end" textLength="65.75" lengthAdjust="spacingAndGlyphs">ETHUSDT</text>
<text transform="translate(221.06 906.55) rotate(-90)" text-anchor="end" textLength="64.82" lengthAdjust="spacingAndGlyphs">XRPUSDT</text>
<text transform="translate(268.18 908.15) rotate(-90)" text-anchor="end" textLength="67.75" lengthAdjust="spacingAndGlyphs">BNBUSDT</text>
<text transform="translate(312.90 906.55) rotate(-90)" text-anchor="end" textLength="63.94" lengthAdjust="spacingAndGlyphs">SOLUSDT</text>
<text transform="translate(359.22 907.35) rotate(-90)" text-anchor="end" textLength="77.50" lengthAdjust="spacingAndGlyphs">USDCUSDT</text>
<text transform="translate(403.13 906.55) rotate(-90)" text-anchor="end" textLength="66.56" lengthAdjust="spacingAndGlyphs">TRXUSDT</text>
<text transform="translate(450.25 908.95) rotate(-90)" text-anchor="end" textLength="78.44" lengthAdjust="spacingAndGlyphs">DOGEUSDT</text>
<text transform="translate(494.17 906.55) rotate(-90)" text-anchor="end" textLength="67.62" lengthAdjust="spacingAndGlyphs">ADAUSDT</text>
<text transform="translate(541.28 908.15) rotate(-90)" text-anchor="end" textLength="68.88" lengthAdjust="spacingAndGlyphs">LINKUSDT</text>
<text transform="translate(586.00 907.35) rotate(-90)" text-anchor="end" textLength="67.62" lengthAdjust="spacingAndGlyphs">BCHUSDT</text>
<text transform="translate(630.72 907.35) rotate(-90)" text-anchor="end" textLength="65.31" lengthAdjust="spacingAndGlyphs">ZECUSDT</text>
<text transform="translate(676.23 907.35) rotate(-90)" text-anchor="end" textLength="66.56" lengthAdjust="spacingAndGlyphs">XLMUSDT</text>
<text transform="translate(722.55 907.35) rotate(-90)" text-anchor="end" textLength="61.50" lengthAdjust="spacingAndGlyphs">LTCUSDT</text>
<text transform="translate(768.07 908.15) rotate(-90)" text-anchor="end" textLength="77.26" lengthAdjust="spacingAndGlyphs">HBARUSDT</text>
<text transform="translate(812.79 907.35) rotate(-90)" text-anchor="end" textLength="60.19" lengthAdjust="spacingAndGlyphs">SUIUSDT</text>
<text transform="translate(858.30 907.35) rotate(-90)" text-anchor="end" textLength="73.57" lengthAdjust="spacingAndGlyphs">AVAXUSDT</text>
<text transform="translate(903.82 907.35) rotate(-90)" text-anchor="end" textLength="68.43" lengthAdjust="spacingAndGlyphs">XMRUSDT</text>
<text transform="translate(950.14 907.35) rotate(-90)" text-anchor="end" textLength="70.88" lengthAdjust="spacingAndGlyphs">SHIBUSDT</text>
<text x="1076.30" y="831.07" textLength="28.95" lengthAdjust="spacingAndGlyphs">0.70</text>
<text x="1076.30" y="699.73" textLength="28.09" lengthAdjust="spacingAndGlyphs">0.75</text>
<text x="1076.30" y="567.59" textLength="29.10" lengthAdjust="spacingAndGlyphs">0.80</text>
<text x="1076.30" y="437.05" textLength="29.10" lengthAdjust="spacingAndGlyphs">0.85</text>
<text x="1076.30" y="305.71" textLength="29.10" lengthAdjust="spacingAndGlyphs">0.90</text>
<text x="1076.30" y="173.57" textLength="29.10" lengthAdjust="spacingAndGlyphs">0.95</text>
<text x="1077.10" y="43.03" textLength="28.21" lengthAdjust="spacingAndGlyphs">1.00</text>
</g>
<text x="308.51" y="28.50" font-size="17.60" textLength="455.75" lengthAdjust="spacingAndGlyphs">Latent Cosine Similarity Matrix (interval=1h, bt=365d)</text>
</svg></body></html>
